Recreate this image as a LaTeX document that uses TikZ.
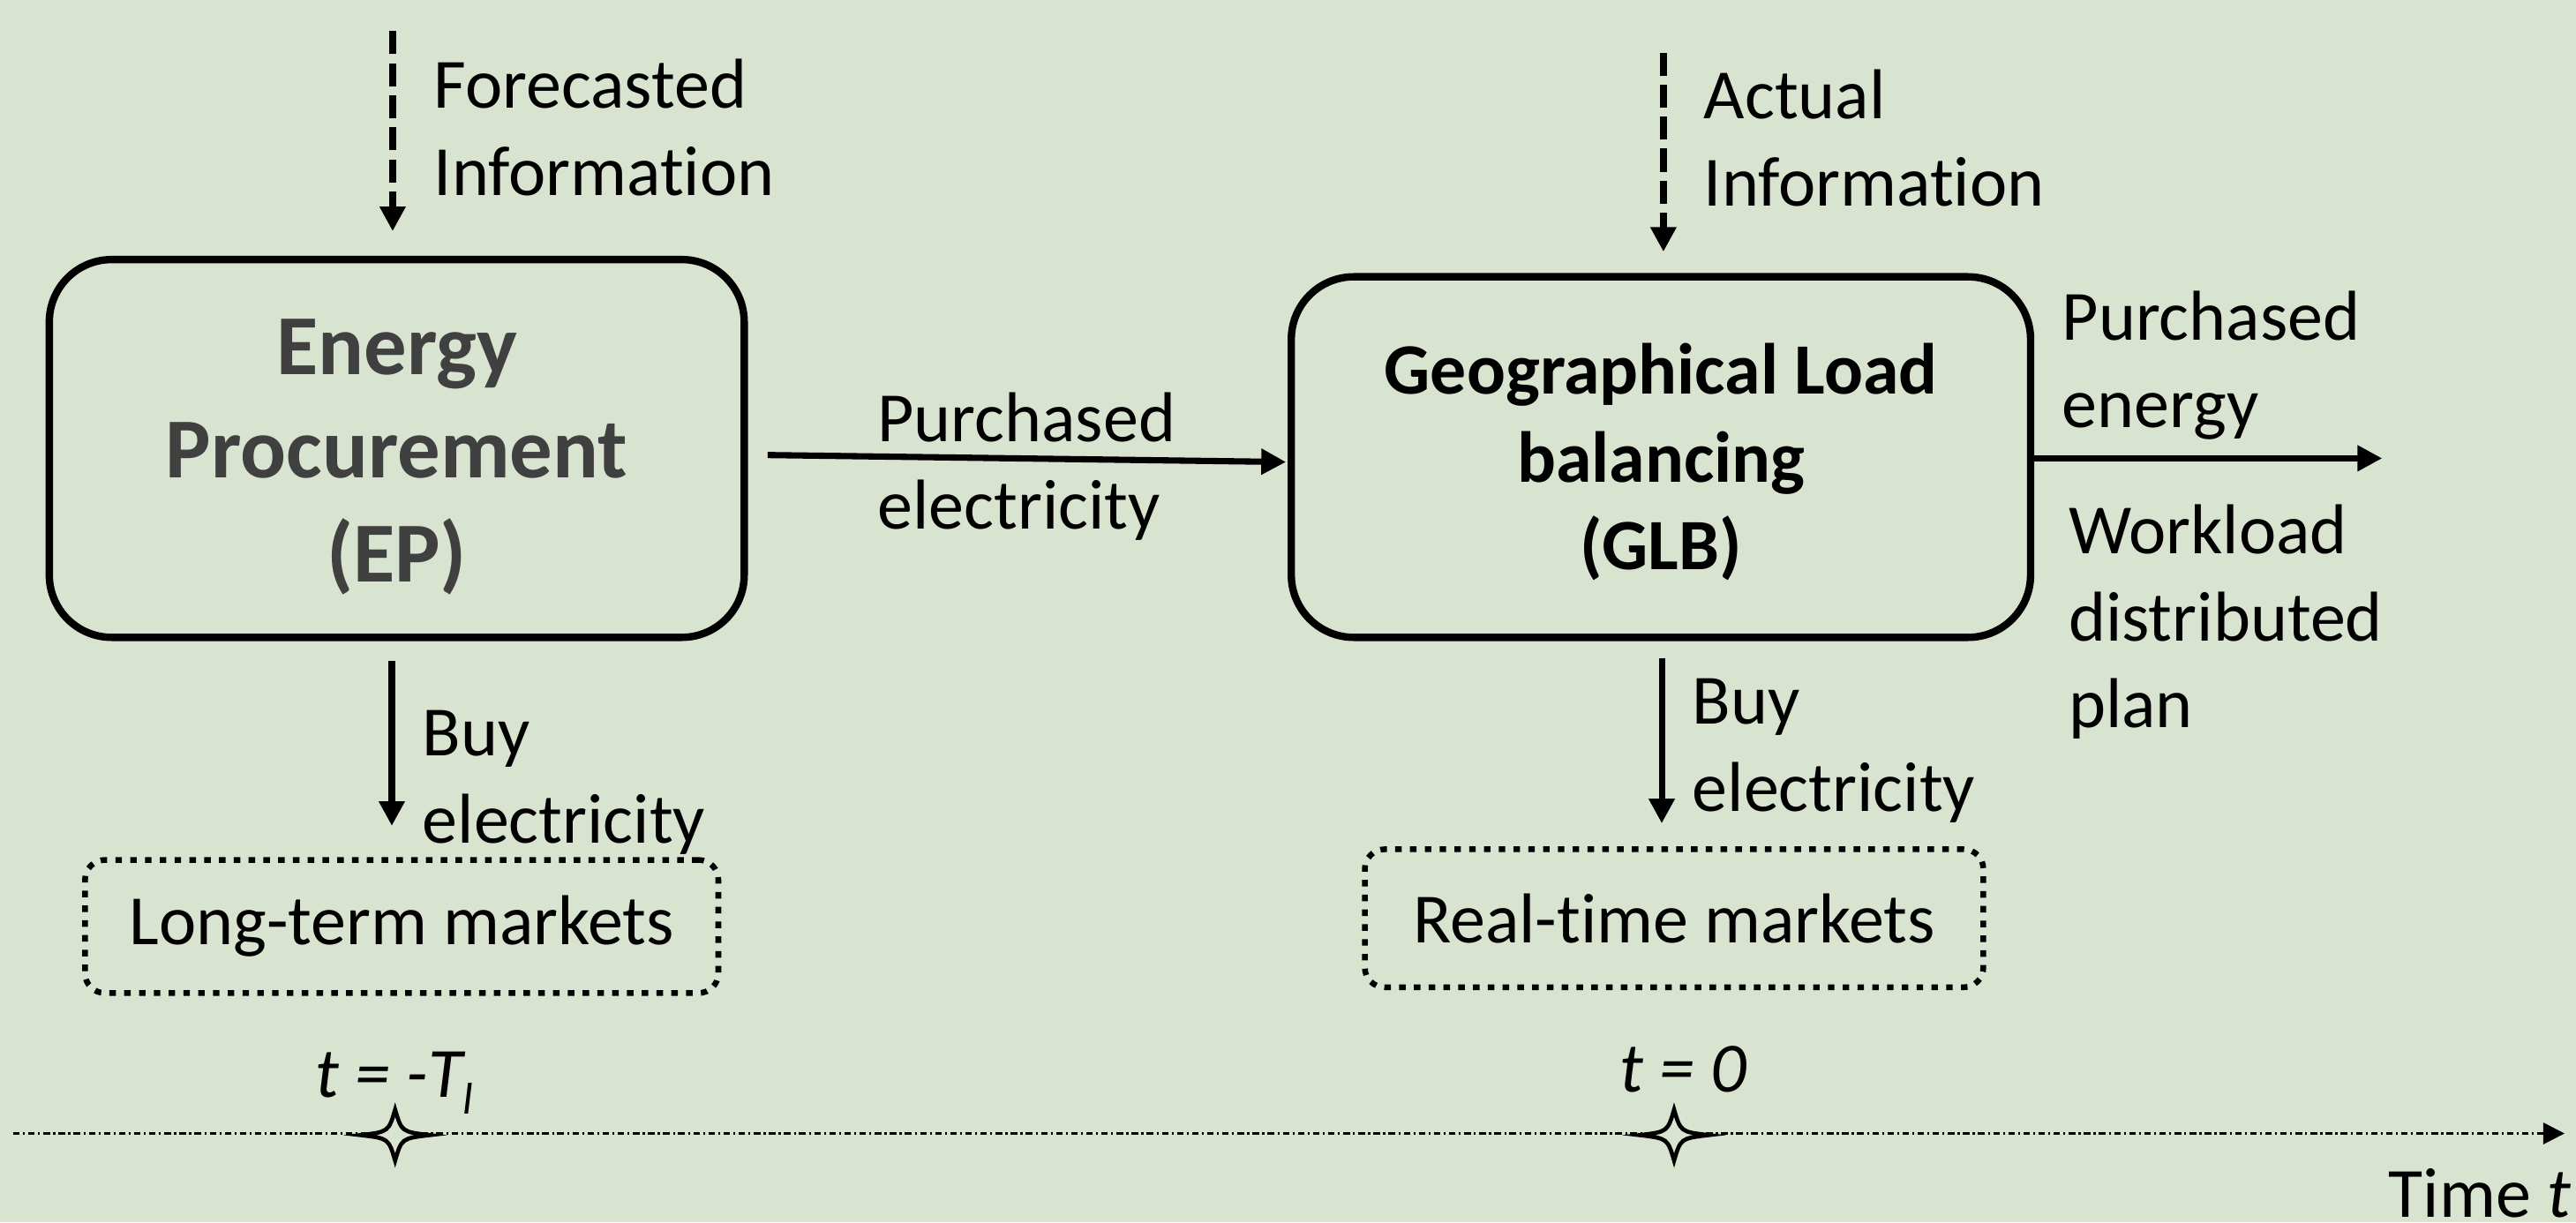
\documentclass[tikz,border=0pt]{standalone}
\usepackage{fontspec}
\setmainfont{Carlito}[Ligatures={NoCommon}]
\usetikzlibrary{arrows.meta,calc}
\definecolor{bgfill}{RGB}{216,228,208}
\definecolor{titlegrey}{RGB}{64,64,64}
\tikzset{
  body/.style={font=\fontsize{43}{53}\selectfont, inner sep=0pt, align=left},
  timelabel/.style={font=\fontsize{43}{53}\selectfont\itshape, inner sep=0pt},
  procbox/.style={draw=black, line width=4.5pt, rounded corners=38pt, inner sep=0pt},
  eptitle/.style={font=\fontsize{52}{63}\selectfont\bfseries, text=titlegrey, inner sep=0pt, align=center},
  glbtitle/.style={font=\fontsize{44}{53.5}\selectfont\bfseries, inner sep=0pt, align=center},
  marketbox/.style={draw=black, line width=3.5pt, dash pattern=on 4pt off 5pt,
    rounded corners=12pt, inner sep=0pt, font=\fontsize{43}{53}\selectfont},
  flow/.style={line width=3.8pt, -{Triangle[length=15pt,width=15pt]}},
  infoflow/.style={flow, line width=4pt, dash pattern=on 14pt off 5.5pt},
  timeaxis/.style={line width=1.5pt, dash pattern=on 4pt off 2pt on 1.2pt off 2pt,
    -{Triangle[length=13pt,width=13pt]}},
  marker/.style={line width=2.5pt, draw=black, fill=bgfill},
  starmark/.pic={
    \filldraw[marker] (21,0) .. controls (4,-2) .. (0,-15.5)
      .. controls (-4,-2) .. (-21,0) .. controls (-4,2) .. (0,15.5)
      .. controls (4,2) .. cycle;
  },
}
\begin{document}
\begin{tikzpicture}[x=1pt, y=-1pt]
  % canvas
  \fill[bgfill] (0,0) rectangle (1568,744);
  \useasboundingbox (0,0) rectangle (1568,744);

  % decision stages (text anchored at the baseline of its last line)
  \node[procbox, minimum width=423pt, minimum height=230pt] (ep) at (241.5,273) {};
  \node[eptitle, anchor=base] (eptxt) at (241.5,354) {Energy\\Procurement\\(EP)};

  \node[procbox, minimum width=450pt, minimum height=219.5pt] (glb) at (1011,278.25) {};
  \node[glbtitle, anchor=base] (glbtxt) at (1011,347) {Geographical Load\\balancing\\(GLB)};

  % markets
  \node[marketbox, minimum width=385.5pt, minimum height=81pt] (lt) at (244.5,564) {Long-term markets};
  \node[marketbox, minimum width=376.5pt, minimum height=84pt] (rt) at (1019,559) {Real-time markets};

  % information inputs
  \coordinate (fcsrc) at (239,19);
  \coordinate (acsrc) at (1012.5,32);
  \draw[infoflow, shorten >=15pt] (fcsrc) -- (fcsrc |- ep.north);
  \draw[infoflow, shorten >=13pt] (acsrc) -- (acsrc |- glb.north);
  \node[body, anchor=base west] (fctxt) at (264,119) {Forecasted\\Information};
  \node[body, anchor=base west] (actxt) at (1037,125.5) {Actual\\Information};

  % purchased electricity from EP to GLB
  \draw[flow] ($(ep.east)+(12,4)$) -- ($(glb.west)+(-1,3)$);
  \node[body, anchor=base west] (petxt) at (534,322) {Purchased\\electricity};

  % GLB outputs
  \coordinate (outend) at (1450,279);
  \draw[flow] (glb.east |- outend) -- (outend);
  \node[body, anchor=base west] (oetxt) at (1255,260) {Purchased\\energy};
  \node[body, anchor=base west] (wltxt) at (1259,443) {Workload\\distributed\\plan};

  % buying from the markets
  \coordinate (buyl) at (238.5,0);
  \coordinate (buyr) at (1011.5,0);
  \draw[flow, shorten <=12pt, shorten >=19pt] (buyl |- ep.south) -- (buyl |- lt.north);
  \draw[flow, shorten <=10.5pt, shorten >=14pt] (buyr |- glb.south) -- (buyr |- rt.north);
  \node[body, anchor=base west] (bltxt) at (257,513) {Buy\\electricity};
  \node[body, anchor=base west] (brtxt) at (1030,494) {Buy\\electricity};

  % time axis
  \coordinate (t0) at (8,690);
  \coordinate (t1) at (1561,690);
  \draw[timeaxis] (t0) -- (t1);
  \pic at (240.5,691) {starmark};
  \pic at (1019,691) {starmark};
  \node[timelabel, anchor=base west] (tltxt) at (192,668)
    {t = -T\raisebox{-10pt}{\fontsize{27}{30}\selectfont l}};
  \node[timelabel, anchor=base west] (t0txt) at (986,664.5) {t = 0};
  \node[body, anchor=base east] (timetxt) at (1565,741) {Time \textit{t}};
\end{tikzpicture}
\end{document}
